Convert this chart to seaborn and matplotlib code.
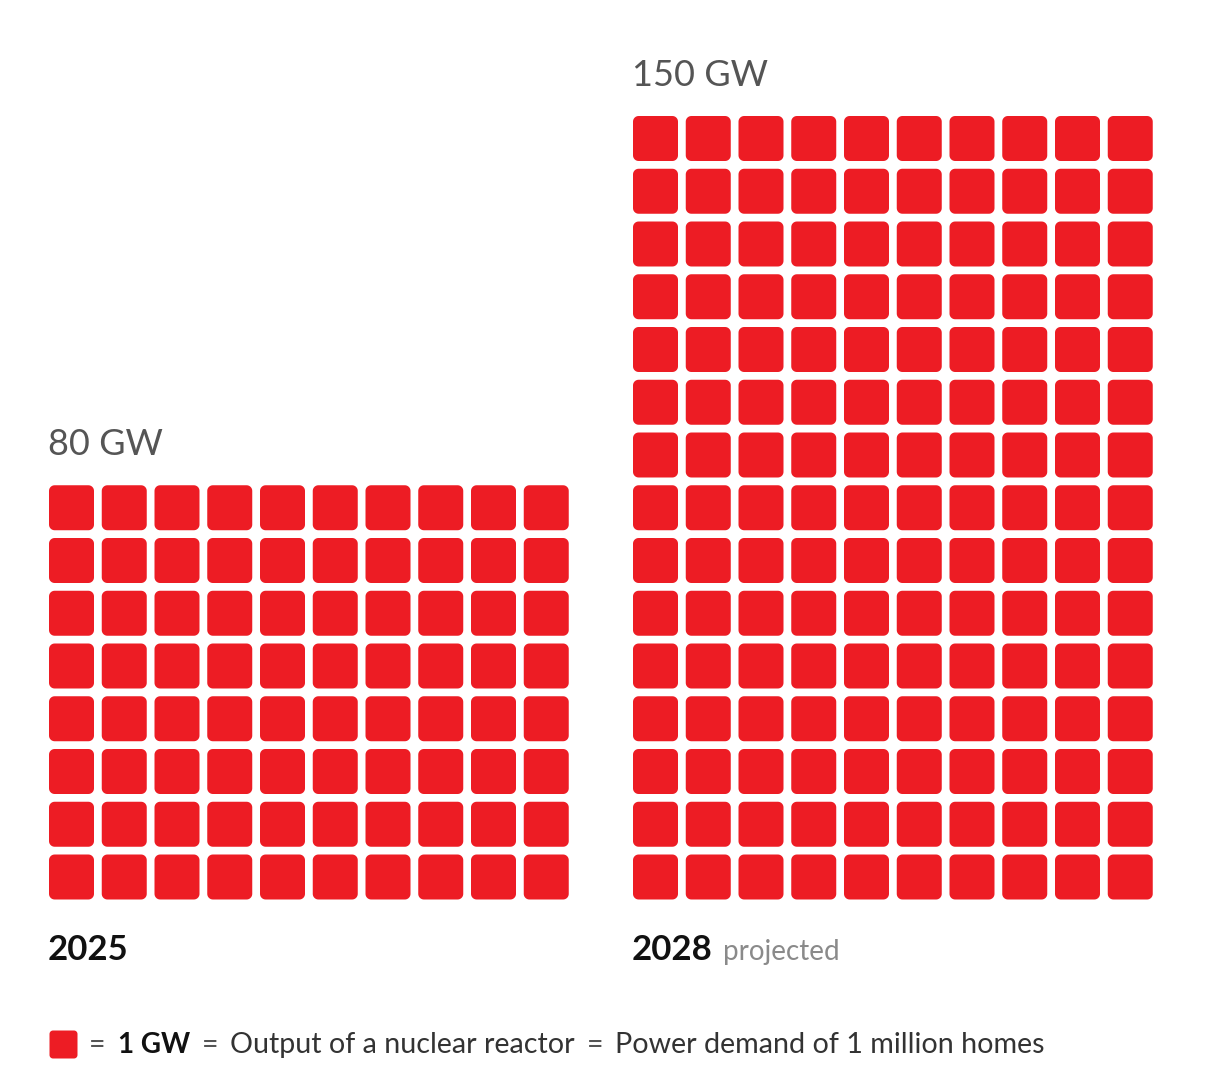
import numpy as np
import pandas as pd
import matplotlib
matplotlib.use("Agg")
import matplotlib.pyplot as plt
from matplotlib.path import Path
import seaborn as sns

# Data
years = ["2025", "2028"]
capacity_gw = [80, 150]
year_notes = ["", "projected"]
cols_per_row = 10
legend_parts = ["=", "1 GW", "=", "Output of a nuclear reactor", "=",
                "Power demand of 1 million homes"]

RED = "#ED1C24"

sns.set_theme(style="white")
plt.rcParams["font.family"] = ["Lato", "DejaVu Sans"]

# figure laid out in pixel units (y goes down)
W, H = 1210, 1092
fig = plt.figure(figsize=(W / 100, H / 100), dpi=100)
ax = fig.add_axes([0, 0, 1, 1])
ax.set_xlim(0, W)
ax.set_ylim(H, 0)
ax.axis("off")


def rounded_square(r=0.25, n=10):
    pts = []
    for cx, cy, a0 in [(1 - r, 1 - r, 0), (-1 + r, 1 - r, 90),
                       (-1 + r, -1 + r, 180), (1 - r, -1 + r, 270)]:
        for t in np.radians(np.linspace(a0, a0 + 90, n)):
            pts.append((cx + r * np.cos(t), cy + r * np.sin(t)))
    pts.append(pts[0])
    return Path(pts, closed=True)


marker = rounded_square()
cell = 45          # square side in px
pitch = 52.75      # distance between squares
base_y = 899.5     # bottom of the grids
left_x = [49, 633]
side_pt = cell * 72 / 100

for i, (yr, gw) in enumerate(zip(years, capacity_gw)):
    idx = np.arange(gw)
    col = idx % cols_per_row
    row = idx // cols_per_row
    df = pd.DataFrame({
        "x": left_x[i] + cell / 2 + col * pitch,
        "y": base_y - cell / 2 - row * pitch,
    })
    sns.scatterplot(data=df, x="x", y="y", marker=marker, s=side_pt ** 2,
                    color=RED, edgecolor="none", linewidth=0, ax=ax, legend=False)
    n_rows = int(np.ceil(gw / cols_per_row))
    top = base_y - cell - (n_rows - 1) * pitch
    ax.text(left_x[i] - 1, top - 30, f"{gw} GW", fontsize=26, color="#555555",
            ha="left", va="baseline")
    ax.text(left_x[i] - 1, 960, yr, fontsize=25, fontweight="bold",
            color="#111111", ha="left", va="baseline")
    if year_notes[i]:
        ax.text(left_x[i] + 90, 960, year_notes[i], fontsize=20, color="#8a8a8a",
                ha="left", va="baseline")

ax.set_xlabel("")
ax.set_ylabel("")

# legend line: square, then text pieces chained left to right
ax.scatter([63], [1043.5], marker=marker, s=(28 * 0.72) ** 2, color=RED,
           linewidth=0)
fig.canvas.draw()
renderer = fig.canvas.get_renderer()
x = 89
for part in legend_parts:
    bold = part == "1 GW"
    col = "#111111" if bold else ("#555555" if part == "=" else "#333333")
    t = ax.text(x, 1053, part, fontsize=20 if bold else 20.6,
                fontweight="bold" if bold else "normal",
                color=col, ha="left", va="baseline")
    bb = t.get_window_extent(renderer)
    x = x + bb.width + 12

fig.savefig("out.png", dpi=100, facecolor="white")
